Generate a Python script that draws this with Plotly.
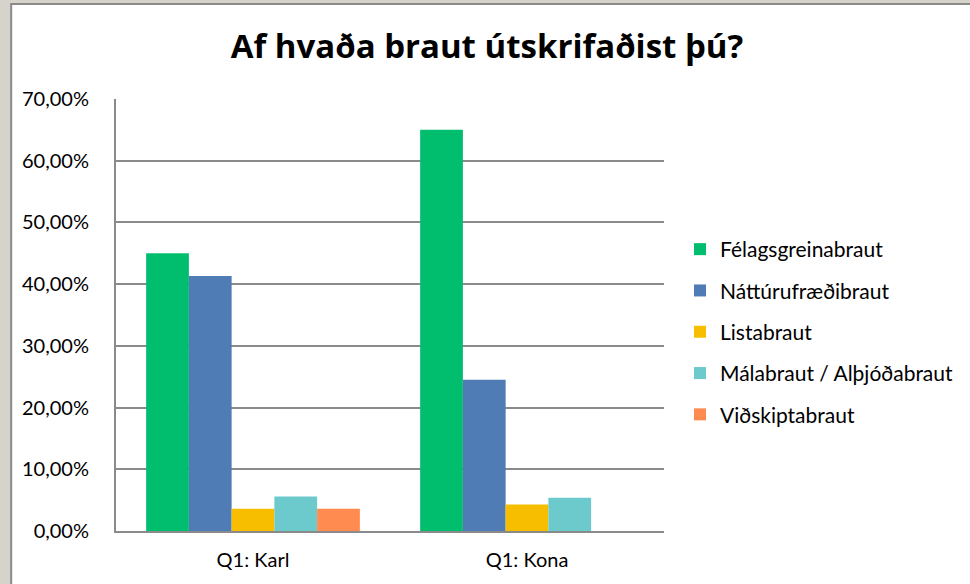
import plotly.graph_objects as go

categories = ["Q1: Karl", "Q1: Kona"]
series_names = ["Félagsgreinabraut", "Náttúrufræðibraut", "Listabraut",
                "Málabraut / Alþjóðabraut", "Viðskiptabraut"]
felags = [45.0, 65.0]
nattura = [41.3, 24.5]
lista = [3.6, 4.3]
mala = [5.6, 5.4]
vidskipta = [3.6, 0.0]
series_values = [felags, nattura, lista, mala, vidskipta]
colors = ["#00BE6E", "#4F7CB5", "#F7BE00", "#6CC9CC", "#FF8B50"]
y_ticks = [0, 10, 20, 30, 40, 50, 60, 70]
y_tick_labels = ["0,00%", "10,00%", "20,00%", "30,00%", "40,00%", "50,00%",
                 "60,00%", "70,00%"]

FONT = "Lato"
TITLE_FONT = "Open Sans"
W, H = 970, 584
L, R, T, B = 116, 305, 99, 53
pw, ph = W - L - R, H - T - B

def px_x(p):
    return (p - L) / pw

def px_y(p):
    return (H - B - p) / ph

fig = go.Figure()
for i, (name, vals, col) in enumerate(zip(series_names, series_values, colors)):
    fig.add_trace(go.Bar(x=categories, y=vals, name=name, marker_color=col,
                         marker_line_width=0, legendgroup=f"g{i}"))

fig.update_layout(
    width=W, height=H,
    margin=dict(l=L, r=R, t=T, b=B),
    paper_bgcolor="#D6D3CD",
    plot_bgcolor="white",
    bargap=0.22, bargroupgap=0,
    font=dict(family=FONT, color="#000000", size=20),
    title=dict(text="<b>Af hvaða braut útskrifaðist þú?</b>",
               font=dict(family=TITLE_FONT, size=33, color="#000000"),
               x=487 / W, xanchor="center",
               y=1 - 46 / H, yanchor="middle"),
    legend=dict(x=px_x(680), xanchor="left", y=px_y(229), yanchor="top",
                font=dict(family=FONT, size=21, color="#000000"),
                traceorder="grouped", tracegroupgap=11, bgcolor="rgba(0,0,0,0)"),
    shapes=[dict(type="rect", xref="paper", yref="paper",
                 x0=px_x(11), x1=px_x(980), y0=px_y(4), y1=px_y(600),
                 fillcolor="white", line=dict(color="#8A8A8A", width=2),
                 layer="below")],
    xaxis=dict(showline=True, linecolor="#8A8A8A", linewidth=2,
               tickfont=dict(family=FONT, size=20), ticklabelstandoff=10),
    yaxis=dict(range=[0, 70], tickvals=y_ticks, ticktext=y_tick_labels,
               showgrid=True, gridcolor="#8A8A8A", gridwidth=2,
               showline=True, linecolor="#8A8A8A", linewidth=2, zeroline=False,
               tickfont=dict(family=FONT, size=20), ticklabelstandoff=21),
)

fig.write_html("out.html", config={"displayModeBar": False},
               post_script="document.body.style.margin='0';")
